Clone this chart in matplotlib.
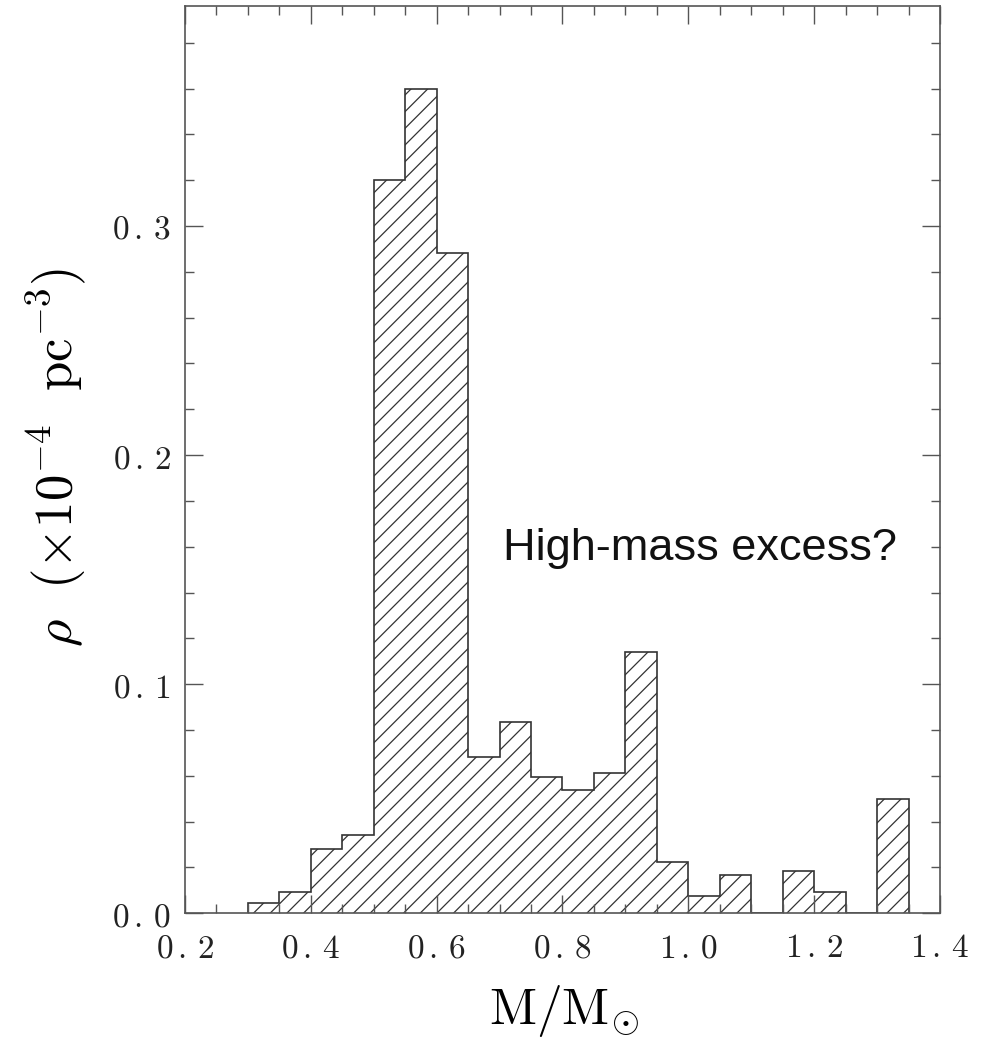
import numpy as np
import matplotlib
matplotlib.use("Agg")
import matplotlib.pyplot as plt
from matplotlib.ticker import MultipleLocator, FuncFormatter

# histogram bins (solar masses) and space densities (1e-4 pc^-3)
bin_edges = [0.30, 0.35, 0.40, 0.45, 0.50, 0.55, 0.60, 0.65, 0.70, 0.75, 0.80,
             0.85, 0.90, 0.95, 1.00, 1.05, 1.10, 1.15, 1.20, 1.25, 1.30, 1.35]
density = [0.0046, 0.0092, 0.0279, 0.0340, 0.3200, 0.3597, 0.2880, 0.0683,
           0.0836, 0.0596, 0.0538, 0.0611, 0.1139, 0.0225, 0.0077, 0.0167,
           0.0, 0.0186, 0.0094, 0.0, 0.0500]
note_text = "High-mass excess?"
note_xy = (0.706, 0.154)

plt.rcParams["mathtext.fontset"] = "cm"
plt.rcParams["hatch.linewidth"] = 0.9

edge_col = "#333333"

fig = plt.figure(figsize=(9.82, 10.42), dpi=100)
ax = fig.add_axes([0.1884, 0.1235, 0.7688, 0.8707])

edges = np.array(bin_edges)
widths = np.diff(edges)
ax.bar(edges[:-1], density, width=widths, align="edge", fill=False,
       hatch="//", edgecolor=edge_col, linewidth=0)
ax.stairs(density, edges, baseline=0, color=edge_col, linewidth=1.2)

ax.set_xlim(0.2, 1.4)
ax.set_ylim(0, 0.396)

ax.xaxis.set_major_locator(MultipleLocator(0.2))
ax.xaxis.set_minor_locator(MultipleLocator(0.05))
ax.yaxis.set_major_locator(MultipleLocator(0.1))
ax.yaxis.set_minor_locator(MultipleLocator(0.02))
# spaced-out digits like the original plotting package
fmt = FuncFormatter(lambda v, p: r"$%s$" % (r"\,.\,".join(("%.1f" % v).split("."))))
ax.xaxis.set_major_formatter(fmt)
ax.yaxis.set_major_formatter(fmt)

ax.tick_params(which="both", direction="in", top=True, right=True,
               color="#555555", width=1.0)
ax.tick_params(which="major", length=13, labelsize=24, labelcolor="#222222")
ax.tick_params(which="minor", length=6.5)
ax.tick_params(axis="x", which="major", pad=13)
ax.tick_params(axis="y", which="major", pad=10)
for s in ax.spines.values():
    s.set_color("#555555")
    s.set_linewidth(1.2)

ax.set_xlabel(r"$\mathrm{M/M}_{\odot}$", fontsize=37, va="top")
ax.xaxis.set_label_coords(0.502, -0.077)
ax.set_ylabel(r"$\rho\ \ (\times 10^{-4}\ \ \mathrm{pc}^{-3})$", fontsize=38)
ax.yaxis.set_label_coords(-0.128, 0.502)

ax.text(note_xy[0], note_xy[1], note_text, family="Liberation Sans",
        fontsize=32.5, ha="left", va="baseline", color="#111111")

fig.savefig("out.png", dpi=100)
